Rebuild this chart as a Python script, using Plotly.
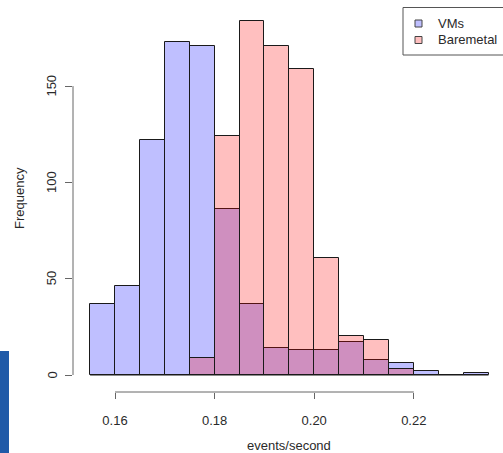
import plotly.graph_objects as go

# ---- data ----
bin_width = 0.005
vm_bin_left = [0.155, 0.160, 0.165, 0.170, 0.175, 0.180, 0.185, 0.190,
               0.195, 0.200, 0.205, 0.210, 0.215, 0.220, 0.225, 0.230]
vm_counts = [37, 46, 122, 173, 171, 86, 37, 14, 13, 13, 17, 8, 6, 2, 0, 1]

bm_bin_left = [0.175, 0.180, 0.185, 0.190, 0.195, 0.200, 0.205, 0.210, 0.215]
bm_counts = [9, 124, 184, 171, 159, 61, 20, 18, 3]

x_ticks = [0.16, 0.18, 0.20, 0.22]
x_tick_labels = ["0.16", "0.18", "0.20", "0.22"]
y_ticks = [0, 50, 100, 150]
y_tick_labels = ["0", "50", "100", "150"]

series_names = ["VMs", "Baremetal"]
vm_fill = "rgba(0,0,255,0.25)"
bm_fill = "rgba(255,0,0,0.25)"
edge = "#1a1a1a"
axis_col = "#666666"
txt_col = "#2a2a2a"
FONT = "Liberation Sans, Arial, sans-serif"

# ---- layout geometry ----
W, H = 503, 453
L, R, T, B = 73, 0, 6, 61
PW, PH = W - L - R, H - T - B


def px(p):
    return (p - L) / PW


def py(p):
    return (H - B - p) / PH


fig = go.Figure()

vm_centers = [b + bin_width / 2 for b in vm_bin_left]
bm_centers = [b + bin_width / 2 for b in bm_bin_left]

fig.add_trace(go.Bar(
    x=vm_centers, y=vm_counts, width=[bin_width] * len(vm_centers),
    name=series_names[0], marker=dict(color=vm_fill, line=dict(color=edge, width=1)),
    showlegend=False, hoverinfo="x+y"))
fig.add_trace(go.Bar(
    x=bm_centers, y=bm_counts, width=[bin_width] * len(bm_centers),
    name=series_names[1], marker=dict(color=bm_fill, line=dict(color=edge, width=1)),
    showlegend=False, hoverinfo="x+y"))

# baseline under all bins (zero-height bins in R still draw a line)
fig.add_trace(go.Scatter(
    x=[vm_bin_left[0], vm_bin_left[-1] + bin_width], y=[0, 0], mode="lines",
    line=dict(color=edge, width=1), showlegend=False, hoverinfo="skip"))

x_lo = x_ticks[0] - (115 - L) / 4980.0
x_hi = x_ticks[0] + (W - R - 115) / 4980.0
y_per_px = 1.926
y_hi = (375 - T) / y_per_px
y_lo = (375 - (H - B)) / y_per_px

fig.update_layout(
    width=W, height=H,
    margin=dict(l=L, r=R, t=T, b=B, pad=0),
    paper_bgcolor="white", plot_bgcolor="white",
    barmode="overlay", bargap=0,
    font=dict(family=FONT, size=13, color=txt_col),
    xaxis=dict(range=[x_lo, x_hi], tickvals=x_ticks, ticktext=x_tick_labels,
               ticks="outside", ticklen=6, tickcolor=axis_col, tickwidth=1,
               showgrid=False, zeroline=False, showline=False,
               tickfont=dict(family=FONT, size=13, color=txt_col),
               ticklabelstandoff=10),
    yaxis=dict(range=[y_lo, y_hi], tickvals=y_ticks,
               ticks="outside", ticklen=7, tickcolor=axis_col, tickwidth=1,
               showgrid=False, zeroline=False, showline=False,
               showticklabels=False),
)

shapes = []
# R-style axis lines spanning first..last tick
shapes.append(dict(type="line", xref="x", yref="paper", x0=x_ticks[0], x1=x_ticks[-1],
                   y0=0, y1=0, line=dict(color=axis_col, width=1)))
shapes.append(dict(type="line", xref="paper", yref="y", x0=0, x1=0,
                   y0=y_ticks[0], y1=y_ticks[-1], line=dict(color=axis_col, width=1)))
# legend box (top-right, clipped at the edge like the reference)
shapes.append(dict(type="rect", xref="paper", yref="paper",
                   x0=px(403), x1=px(505), y0=py(55), y1=py(7.5),
                   line=dict(color="#555555", width=1), fillcolor="white"))
shapes.append(dict(type="rect", xref="paper", yref="paper",
                   x0=px(415), x1=px(422), y0=py(27), y1=py(20),
                   line=dict(color="#444444", width=1), fillcolor=vm_fill))
shapes.append(dict(type="rect", xref="paper", yref="paper",
                   x0=px(415), x1=px(422), y0=py(43.5), y1=py(36.5),
                   line=dict(color="#444444", width=1), fillcolor=bm_fill))
# blue strip at bottom-left of the screenshot
shapes.append(dict(type="rect", xref="paper", yref="paper",
                   x0=px(0), x1=px(9), y0=py(453), y1=py(351),
                   line=dict(width=0), fillcolor="#1f5aa8"))
fig.update_layout(shapes=shapes)

annotations = [
    dict(text=series_names[0], x=px(436), y=py(23.5), xanchor="left", yanchor="middle",
         xref="paper", yref="paper"),
    dict(text=series_names[1], x=px(436), y=py(40), xanchor="left", yanchor="middle",
         xref="paper", yref="paper"),
    dict(text="Frequency", x=px(19), y=py(198), xanchor="center", yanchor="middle",
         textangle=-90, xref="paper", yref="paper"),
    dict(text="events/second", x=px(289), y=py(445), xanchor="center", yanchor="middle",
         xref="paper", yref="paper"),
]
# rotated y tick labels, R style
for v, t in zip(y_ticks, y_tick_labels):
    annotations.append(dict(text=t, x=px(51.5), y=v, xref="paper", yref="y",
                            xanchor="center", yanchor="middle", textangle=-90))
for a in annotations:
    a.update(showarrow=False, font=dict(family=FONT, size=13, color=txt_col))
fig.update_layout(annotations=annotations)

fig.write_html(
    "out.html",
    config={"displayModeBar": False},
    post_script="document.body.style.margin='0';document.body.style.overflow='hidden';",
)
